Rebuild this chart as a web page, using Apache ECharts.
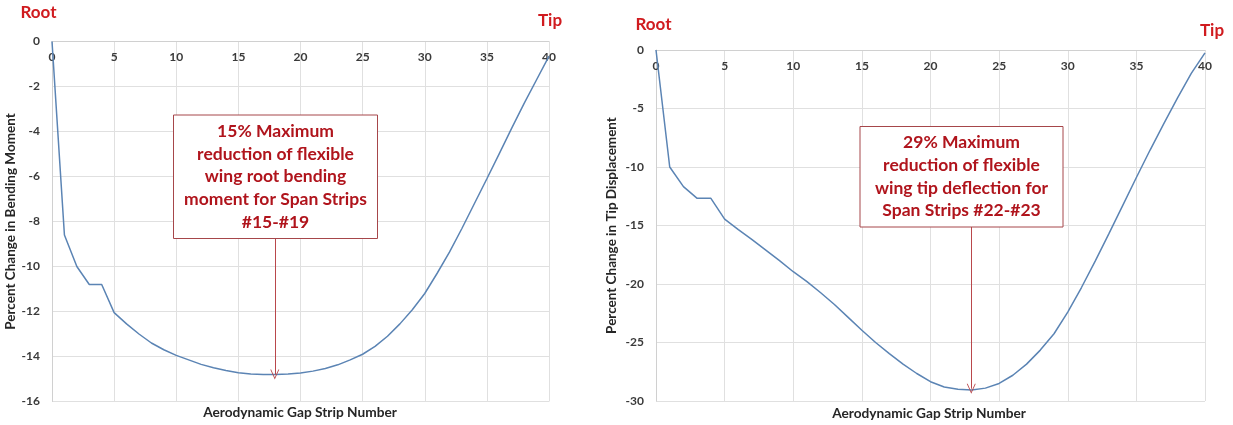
<!DOCTYPE html>
<html>
<head>
<meta charset="utf-8">
<script src="https://cdn.jsdelivr.net/npm/echarts@6/dist/echarts.min.js"></script>
<style>
  html, body { margin: 0; padding: 0; background: #ffffff; }
  #chart { width: 1233px; height: 425px; }
</style>
</head>
<body>
<div id="chart"></div>
<script>
// Aerodynamic gap strip numbers (root = 0, tip = 40)
const stripNumbers = [0, 1, 2, 3, 4, 5, 6, 7, 8, 9, 10, 11, 12, 13, 14, 15, 16, 17, 18, 19, 20,
  21, 22, 23, 24, 25, 26, 27, 28, 29, 30, 31, 32, 33, 34, 35, 36, 37, 38, 39, 40];

// Percent change in wing root bending moment per strip
const bendingMomentChange = [0, -8.6, -10.0, -10.8, -10.8, -12.05, -12.55, -13.0, -13.4, -13.7,
  -13.95, -14.15, -14.35, -14.5, -14.62, -14.72, -14.78, -14.8, -14.8, -14.78,
  -14.73, -14.65, -14.53, -14.37, -14.15, -13.9, -13.55, -13.1, -12.55, -11.92,
  -11.2, -10.3, -9.35, -8.3, -7.2, -6.1, -4.98, -3.85, -2.75, -1.7, -0.65];

// Percent change in wing tip displacement per strip
const tipDisplacementChange = [0, -10.0, -11.68, -12.68, -12.68, -14.45, -15.35, -16.2, -17.1, -18.0,
  -18.95, -19.8, -20.75, -21.75, -22.85, -23.95, -25.0, -25.95, -26.85, -27.65,
  -28.35, -28.8, -29.0, -29.05, -28.9, -28.5, -27.8, -26.85, -25.65, -24.25,
  -22.4, -20.3, -18.05, -15.7, -13.3, -10.9, -8.55, -6.3, -4.1, -2.0, -0.25];

// Y axis ticks for each panel
const bendingTicks = { min: -16, max: 0, step: 2 };
const tipTicks = { min: -30, max: 0, step: 5 };
const stripTicks = { min: 0, max: 40, step: 5 };

// Callout texts and the strip / value each arrow points at
const bendingNote = ['15% Maximum', 'reduction of flexible', 'wing root bending', 'moment for Span Strips', '#15-#19'];
const tipNote = ['29% Maximum', 'reduction of flexible', 'wing tip deflection for', 'Span Strips #22-#23'];
const bendingArrow = { strip: 17.93, from: -8.73, to: -14.8 };
const tipArrow = { strip: 22.97, from: -15.1, to: -28.95 };

const axisTitles = {
  x: 'Aerodynamic Gap Strip Number',
  yBending: 'Percent Change in Bending Moment',
  yTip: 'Percent Change in Tip Displacement'
};

const FONT = 'Lato, "Open Sans", "DejaVu Sans", sans-serif';
const LINE_COLOR = '#5b84b4';
const GRID_COLOR = '#e0e0e0';
const LABEL_COLOR = '#3a3a3a';
const NOTE_COLOR = '#b0141c';
const EDGE_RED = '#d01b1f';
const ARROW_COLOR = '#b9474b';

const openArrow = 'path://M0,10 L5,0 L10,10 L9,10 L5,2 L1,10 Z';

function pairs(ys) { return stripNumbers.map((x, i) => [x, ys[i]]); }

function xAxisFor(gridIndex) {
  return {
    gridIndex, type: 'value', position: 'top',
    min: stripTicks.min, max: stripTicks.max, interval: stripTicks.step,
    axisLine: { show: true, onZero: false, lineStyle: { color: '#d0d0d0', width: 1 } },
    axisTick: { show: false },
    axisLabel: { inside: true, margin: 10, color: LABEL_COLOR, fontFamily: FONT, fontWeight: 'bold', fontSize: 12 },
    splitLine: { show: true, lineStyle: { color: GRID_COLOR, width: 1 } }
  };
}

function yAxisFor(gridIndex, ticks, title, gap) {
  return {
    gridIndex, type: 'value',
    min: ticks.min, max: ticks.max, interval: ticks.step,
    name: title, nameLocation: 'middle', nameRotate: 90, nameGap: gap,
    nameTextStyle: { color: '#262626', fontFamily: FONT, fontWeight: 'bold', fontSize: 13.5 },
    axisLine: { show: true, lineStyle: { color: '#d0d0d0', width: 1 } },
    axisTick: { show: false },
    axisLabel: { margin: 12, color: LABEL_COLOR, fontFamily: FONT, fontWeight: 'bold', fontSize: 12 },
    splitLine: { show: true, lineStyle: { color: GRID_COLOR, width: 1 } }
  };
}

function curve(axisIndex, ys, arrow) {
  return {
    type: 'line', xAxisIndex: axisIndex, yAxisIndex: axisIndex,
    data: pairs(ys), showSymbol: false, symbol: 'none', silent: true,
    lineStyle: { color: LINE_COLOR, width: 1.5 },
    markLine: {
      silent: true, animation: false,
      label: { show: false },
      lineStyle: { color: ARROW_COLOR, width: 1, type: 'solid' },
      emphasis: { disabled: true },
      data: [[
        { coord: [arrow.strip, arrow.from], symbol: 'none' },
        { coord: [arrow.strip, arrow.to], symbol: openArrow, symbolSize: [9, 10] }
      ]]
    }
  };
}

function calloutBox(x, y, w, h, lines) {
  return {
    type: 'group', left: x, top: y, silent: true, z: 100,
    children: [
      { type: 'rect', z: 100, shape: { x: 0, y: 0, width: w, height: h },
        style: { fill: '#ffffff', stroke: '#a6464a', lineWidth: 1 } },
      { type: 'text', z: 101, x: w / 2, y: h / 2,
        style: { text: lines.join('\n'), fill: NOTE_COLOR, font: 'bold 17.5px ' + FONT,
                 lineHeight: 22.6, align: 'center', verticalAlign: 'middle' } }
    ]
  };
}

function label(text, x, y, size, color, align) {
  return { type: 'text', x, y, silent: true, z: 100,
    style: { text, fill: color, font: 'bold ' + size + 'px ' + FONT, align: align || 'center', verticalAlign: 'middle' } };
}

const chart = echarts.init(document.getElementById('chart'), null, { renderer: 'canvas' });
chart.setOption({
  animation: false,
  backgroundColor: '#ffffff',
  grid: [
    { left: 52, top: 41.5, width: 497, height: 360 },
    { left: 656, top: 50, width: 549, height: 351 }
  ],
  xAxis: [xAxisFor(0), xAxisFor(1)],
  yAxis: [
    yAxisFor(0, bendingTicks, axisTitles.yBending, 34),
    yAxisFor(1, tipTicks, axisTitles.yTip, 37)
  ],
  series: [
    curve(0, bendingMomentChange, bendingArrow),
    curve(1, tipDisplacementChange, tipArrow)
  ],
  graphic: [
    calloutBox(173, 114.5, 204, 123.5, bendingNote),
    calloutBox(859.5, 126, 203, 100.5, tipNote),
    label('Root', 38.5, 13, 17, EDGE_RED),
    label('Tip', 550, 21, 17, EDGE_RED),
    label('Root', 653.5, 24.5, 17, EDGE_RED),
    label('Tip', 1212, 31, 17, EDGE_RED),
    label(axisTitles.x, 300, 413, 13.7, '#262626'),
    label(axisTitles.x, 929, 414, 13.7, '#262626')
  ]
});
</script>
</body>
</html>
